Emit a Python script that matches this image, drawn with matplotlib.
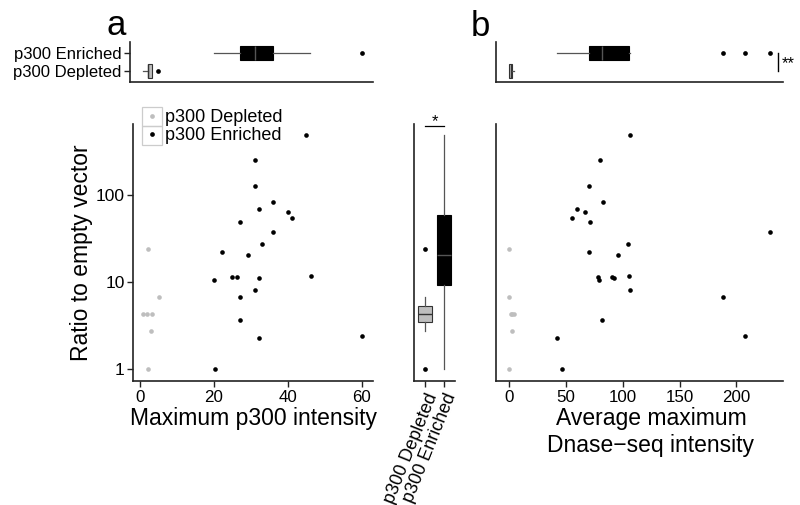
import numpy as np
import matplotlib
matplotlib.use("Agg")
import matplotlib.pyplot as plt
from matplotlib import cbook
from matplotlib.lines import Line2D
from matplotlib.patches import Rectangle

plt.rcParams["font.family"] = ["Liberation Sans", "DejaVu Sans"]

# ---------------------------------------------------------------------------
# Data
# ---------------------------------------------------------------------------
groups = ["p300 Depleted", "p300 Enriched"]

depleted_ratio = [23.9, 6.7, 4.3, 4.3, 4.3, 2.75, 1.0]
depleted_p300 = [2.1, 5.0, 0.9, 2.0, 3.2, 3.1, 2.2]
depleted_dnase = [0.0, 0.3, 1.5, 3.0, 4.4, 2.9, 0.3]

enriched_ratio = [480, 250, 125, 83, 68.6, 63.9, 54.5, 48.7, 37.7, 27.0, 22.1,
                  20.4, 10.4, 11.5, 11.4, 11.1, 11.6, 8.1, 6.7, 3.7, 2.28, 2.41, 1.0]
enriched_p300 = [45.0, 31.1, 31.1, 36.0, 32.1, 40.0, 41.1, 27.0, 36.0, 33.1, 22.1,
                 29.1, 20.1, 24.9, 26.1, 32.1, 46.1, 31.1, 27.0, 27.0, 32.1, 60.1, 20.2]
enriched_dnase = [106.8, 80.1, 70.1, 82.7, 60.2, 67.2, 55.8, 71.0, 229.5, 105.0, 70.4,
                  96.2, 79.2, 78.0, 90.4, 92.7, 105.9, 106.2, 188.4, 82.1, 42.3, 208.0, 46.7]

ratio_ticks = [1, 10, 100]
p300_ticks = [0, 20, 40, 60]
dnase_ticks = [0, 50, 100, 150, 200]

GREY = "#bebebe"
DARK = "#333333"
W, H = 800, 505

fig = plt.figure(figsize=(W / 100, H / 100), dpi=100)


def box(l, t, r, b):
    """Pixel box (left, top, right, bottom) -> figure fraction rect."""
    return [l / W, 1 - b / H, (r - l) / W, (b - t) / H]


def clean(ax):
    for side in ("top", "right"):
        ax.spines[side].set_visible(False)
    for side in ("left", "bottom"):
        ax.spines[side].set_color("#222222")
        ax.spines[side].set_linewidth(1.2)
    ax.tick_params(length=4, width=1, color="#222222", pad=2,
                   labelsize=12.5, labelcolor="black")
    ax.tick_params(axis="x", pad=2.5, labelsize=12.2)
    ax.minorticks_off()


def style_boxes(bp):
    fills = [GREY, "black"]
    meds = [DARK, "#555555"]
    for i, patch in enumerate(bp["boxes"]):
        patch.set_facecolor(fills[i])
        patch.set_edgecolor(DARK if i == 0 else "black")
        patch.set_linewidth(0.8)
        bp["medians"][i].set_color(meds[i])
        bp["medians"][i].set_linewidth(1.0)
    for w in bp["whiskers"]:
        w.set_color("#555555")
        w.set_linewidth(0.9)


flier = dict(marker="o", markersize=3.4, markerfacecolor="black",
             markeredgecolor="none")

# ---------------------------------------------------------------------------
# Top marginal boxplots
# ---------------------------------------------------------------------------
ax_ta = fig.add_axes(box(130, 42, 373, 82))
bp = ax_ta.boxplot([depleted_p300, enriched_p300], positions=[1, 2],
                   orientation="horizontal", widths=0.8, patch_artist=True,
                   showcaps=False, flierprops=flier)
style_boxes(bp)
clean(ax_ta)
ax_ta.set_xlim(-2.7, 63.0)
ax_ta.set_ylim(0.4, 2.6)
ax_ta.set_yticks([1, 2], groups)
ax_ta.tick_params(axis="x", bottom=False, labelbottom=False)
ax_ta.tick_params(axis="y", labelsize=12)

ax_tb = fig.add_axes(box(496, 42, 783, 82))
bp = ax_tb.boxplot([depleted_dnase, enriched_dnase], positions=[1, 2],
                   orientation="horizontal", widths=0.8, patch_artist=True,
                   showcaps=False, flierprops=flier)
style_boxes(bp)
clean(ax_tb)
ax_tb.set_xlim(-11.4, 241)
ax_tb.set_ylim(0.4, 2.6)
ax_tb.tick_params(bottom=False, labelbottom=False, left=False, labelleft=False)
ax_tb.plot([237, 237], [1, 2], color="black", lw=1.0, clip_on=False)
ax_tb.text(239.5, 1.42, "**", ha="left", va="center", fontsize=12)

# ---------------------------------------------------------------------------
# Scatter a
# ---------------------------------------------------------------------------
ylim = (0.734, 645)

ax_a = fig.add_axes(box(133, 124, 373, 381))
ax_a.scatter(depleted_p300, depleted_ratio, s=11, color=GREY, lw=0,
             label=groups[0])
ax_a.scatter(enriched_p300, enriched_ratio, s=11, color="black", lw=0,
             label=groups[1])
ax_a.set_yscale("log")
clean(ax_a)
ax_a.set_xlim(-1.9, 63.0)
ax_a.set_ylim(*ylim)
ax_a.set_xticks(p300_ticks)
ax_a.set_yticks(ratio_ticks, [str(t) for t in ratio_ticks])
ax_a.minorticks_off()
ax_a.set_ylabel("Ratio to empty vector", fontsize=16.5)
ax_a.yaxis.set_label_coords(-0.165, 0.5)
ax_a.set_xlabel("Maximum p300 intensity", fontsize=16.5)
ax_a.xaxis.set_label_coords(0.5, -0.102)

# legend with boxed keys
handles = [Line2D([], [], ls="none", marker="o", markersize=3.4,
                  markerfacecolor=c, markeredgecolor="none") for c in (GREY, "black")]
ax_a.legend(handles, groups, loc="upper left", frameon=False, fontsize=13,
            bbox_to_anchor=(141.7 / W, 1 - 109 / H), bbox_transform=fig.transFigure,
            borderpad=0, borderaxespad=0, handlelength=1.1, handletextpad=0.2,
            labelspacing=0.08)
for top in (107, 126):
    fig.patches.append(Rectangle((141.7 / W, 1 - (top + 19) / H), 20 / W, 19 / H,
                                 transform=fig.transFigure, fill=False,
                                 edgecolor="#cccccc", lw=0.9))

# ---------------------------------------------------------------------------
# Middle boxplot of ratios (stats on log10 scale)
# ---------------------------------------------------------------------------
ax_m = fig.add_axes(box(414, 124, 455, 381))
stats = []
for vals in (depleted_ratio, enriched_ratio):
    st = cbook.boxplot_stats(np.log10(vals))[0]
    for key in ("med", "q1", "q3", "whislo", "whishi", "mean", "cilo", "cihi"):
        st[key] = 10 ** st[key]
    st["fliers"] = 10 ** np.asarray(st["fliers"])
    stats.append(st)
ax_m.set_yscale("log")
bp = ax_m.bxp(stats, positions=[1, 2], widths=0.75, patch_artist=True,
              showcaps=False, flierprops=flier)
style_boxes(bp)
clean(ax_m)
ax_m.set_xlim(0.4, 2.6)
ax_m.set_ylim(*ylim)
ax_m.tick_params(axis="y", which="both", left=False, labelleft=False)
ax_m.tick_params(axis="x", pad=3)
ax_m.set_xticks([1, 2])
ax_m.set_xticklabels(groups, rotation=68, ha="right", va="top",
                     rotation_mode="anchor", fontsize=13)
ax_m.plot([1, 2], [612, 612], color="black", lw=0.9, clip_on=False)
ax_m.text(1.5, 557, "*", ha="center", va="bottom", fontsize=12)

# ---------------------------------------------------------------------------
# Scatter b
# ---------------------------------------------------------------------------
ax_b = fig.add_axes(box(496, 124, 783, 381))
ax_b.scatter(depleted_dnase, depleted_ratio, s=11, color=GREY, lw=0)
ax_b.scatter(enriched_dnase, enriched_ratio, s=11, color="black", lw=0)
ax_b.set_yscale("log")
clean(ax_b)
ax_b.set_xlim(-11.4, 241)
ax_b.set_ylim(*ylim)
ax_b.set_xticks(dnase_ticks)
ax_b.tick_params(axis="y", which="both", left=False, labelleft=False)
ax_b.set_xlabel("Average maximum\nDnase\u2212seq intensity", fontsize=16.5,
                linespacing=1.2)
ax_b.xaxis.set_label_coords(0.54, -0.102)

fig.text(116 / W, 1 - 35 / H, "a", fontsize=25, ha="center", va="baseline")
fig.text(480 / W, 1 - 36 / H, "b", fontsize=25, ha="center", va="baseline")

fig.savefig("out.png", dpi=100)
